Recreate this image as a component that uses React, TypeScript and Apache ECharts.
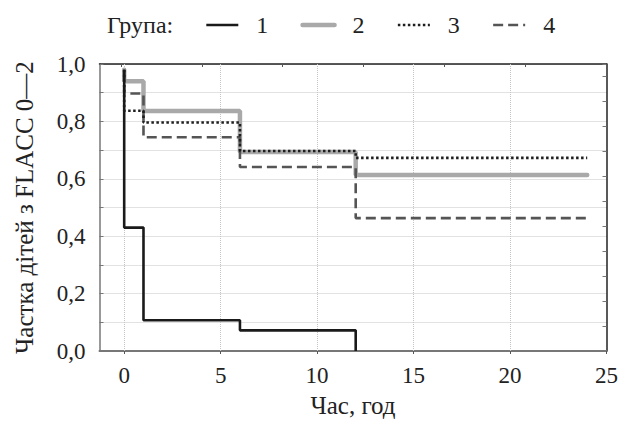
import React, { useEffect, useRef } from "react";
import * as echarts from "echarts";

const groupNames = ["1", "2", "3", "4"];
// Kaplan–Meier style step points [hour, share]
const group1: [number, number][] = [[0, 0.98], [0, 0.43], [1, 0.107], [6, 0.072], [12, 0.0]];
const group2: [number, number][] = [[0, 0.98], [0, 0.94], [1, 0.836], [6, 0.693], [12, 0.613], [24, 0.613]];
const group3: [number, number][] = [[0, 0.98], [0, 0.837], [1, 0.796], [6, 0.697], [12, 0.673], [24, 0.673]];
const group4: [number, number][] = [[0, 0.98], [0, 0.897], [1, 0.745], [6, 0.641], [12, 0.463], [24, 0.463]];
const xTicks = [0, 5, 10, 15, 20, 25];
const xGrid = [0, 5, 10, 15, 20];
const topTicks = [0, 5, 10, 15, 20, 25];

const FONT = "'Liberation Serif', 'Times New Roman', serif";
const FS = 24;
const FS_TICK = 23;
const FS_TITLE = 25;

const lineStyles = [
  { color: "#1a1a1a", width: 2.6 },
  { color: "#a9a9a9", width: 4.5, cap: "round" },
  { color: "#1e1e1e", width: 2.6, type: [2.5, 2.5] },
  { color: "#555555", width: 2.6, type: [10, 5] },
];

export default function App() {
  const ref = useRef<HTMLDivElement>(null);
  useEffect(() => {
    document.body.style.margin = "0";
    const chart = echarts.init(ref.current!, null, { renderer: "svg" });
    const lineBase = { type: "line", step: "end", symbol: "none", xAxisIndex: 0, yAxisIndex: 0, z: 3 };
    chart.setOption({
      animation: false,
      backgroundColor: "#ffffff",
      textStyle: { fontFamily: FONT },
      grid: { left: 99.5, right: 19.5, top: 64, bottom: 70, containLabel: false },
      graphic: [
        {
          type: "text",
          left: 107,
          top: 13,
          style: { text: "Група:", fontFamily: FONT, fontSize: FS, fill: "#222" },
        },
      ],
      legend: {
        data: groupNames.map((n, i) => ({ name: n, lineStyle: { ...lineStyles[i] } })),
        left: 205,
        top: 13,
        padding: 0,
        itemWidth: 32,
        itemHeight: 14,
        itemGap: 32,
        itemStyle: { opacity: 0 },
        textStyle: { fontFamily: FONT, fontSize: FS, color: "#222", padding: [0, 0, 0, 13] },
      },
      xAxis: [
        {
          type: "value",
          min: -1.28,
          max: 25,
          position: "bottom",
          name: "Час, год",
          nameLocation: "middle",
          nameGap: 42,
          nameTextStyle: { fontFamily: FONT, fontSize: FS_TITLE, color: "#222" },
          axisLine: { show: true, onZero: false, lineStyle: { color: "#777", width: 2 } },
          axisTick: { show: true, customValues: xTicks, length: 3, lineStyle: { color: "#555" } },
          axisLabel: {
            customValues: xTicks,
            fontFamily: FONT,
            fontSize: FS_TICK,
            color: "#222",
            margin: 13,
          },
          splitLine: { show: false },
        },
        {
          type: "value",
          min: -1.33,
          max: 30.04,
          position: "top",
          axisLine: { show: true, onZero: false, lineStyle: { color: "#222", width: 1.5 } },
          axisTick: { show: true, inside: true, customValues: topTicks, length: 3, lineStyle: { color: "#555" } },
          axisLabel: { show: false },
          splitLine: { show: false },
        },
      ],
      yAxis: [
        {
          type: "value",
          min: 0,
          max: 1,
          interval: 0.1,
          position: "left",
          name: "Частка дітей з FLACC 0—2",
          nameLocation: "middle",
          nameGap: 63,
          nameTextStyle: { fontFamily: FONT, fontSize: FS_TITLE, color: "#222" },
          axisLine: { show: true, onZero: false, lineStyle: { color: "#777", width: 1.5 } },
          axisTick: { show: true, inside: true, length: 4, lineStyle: { color: "#777" } },
          axisLabel: {
            fontFamily: FONT,
            fontSize: FS_TICK,
            color: "#222",
            margin: 14,
            formatter: (v: number) =>
              Math.round(v * 10) % 2 === 0 ? v.toFixed(1).replace(".", ",") : "",
          },
          splitLine: { show: true, lineStyle: { color: "#c4c4c4", width: 1, type: [1, 1] } },
        },
        {
          type: "value",
          min: 0,
          max: 1.15,
          interval: 0.1,
          position: "right",
          axisLine: { show: true, onZero: false, lineStyle: { color: "#222", width: 1.5 } },
          axisTick: { show: true, inside: true, length: 4, lineStyle: { color: "#777" } },
          axisLabel: { show: false },
          splitLine: { show: false },
        },
      ],
      series: [
        {
          ...lineBase,
          name: "1",
          data: group1,
          lineStyle: lineStyles[0],
          itemStyle: { color: lineStyles[0].color },
          z: 6,
          markLine: {
            silent: true,
            symbol: "none",
            label: { show: false },
            lineStyle: { color: "#c4c4c4", width: 1, type: [1, 1] },
            z: 1,
            data: xGrid.map((x) => ({ xAxis: x })),
          },
        },
        {
          ...lineBase,
          name: "2",
          data: group2,
          lineStyle: lineStyles[1],
          itemStyle: { color: lineStyles[1].color },
        },
        {
          ...lineBase,
          name: "3",
          data: group3,
          lineStyle: lineStyles[2],
          itemStyle: { color: lineStyles[2].color },
          z: 5,
        },
        {
          ...lineBase,
          name: "4",
          data: group4,
          lineStyle: lineStyles[3],
          itemStyle: { color: lineStyles[3].color },
          z: 4,
        },
      ],
    });
    return () => chart.dispose();
  }, []);
  return <div ref={ref} style={{ width: 626, height: 423 }} />;
}
